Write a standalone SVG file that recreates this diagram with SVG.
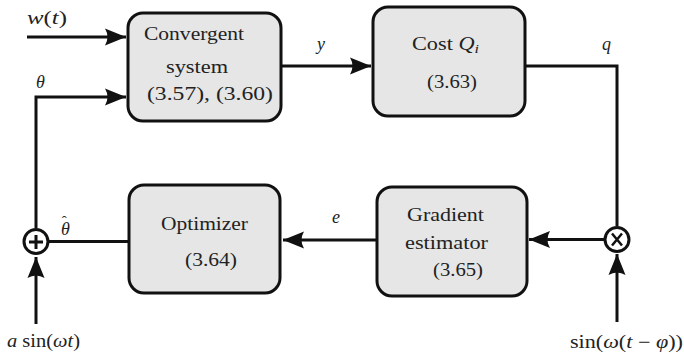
<svg xmlns="http://www.w3.org/2000/svg" width="684" height="358" viewBox="0 0 684 358">
<defs>
<marker id="ah" markerUnits="userSpaceOnUse" markerWidth="24" markerHeight="20" viewBox="-22 -10 24 20" refX="0" refY="0" orient="auto">
<path d="M0,0 L-21,-8.5 Q-16,0 -21,8.5 Z" fill="#111"/>
</marker>
</defs>
<rect x="0" y="0" width="684" height="358" fill="#fff"/>
<g id="connectors" fill="none" stroke="#111" stroke-width="3">
<path d="M27,37 H126" marker-end="url(#ah)"/>
<path d="M36,228 V97 H126" marker-end="url(#ah)"/>
<path d="M281,66 H371" marker-end="url(#ah)"/>
<path d="M525,66 H617 V226"/>
<path d="M604,239.5 H529" marker-end="url(#ah)"/>
<path d="M376,240 H283" marker-end="url(#ah)"/>
<path d="M129,241.5 H49"/>
<path d="M36,324 V257" marker-end="url(#ah)"/>
<path d="M617,322 V254" marker-end="url(#ah)"/>
</g>
<g id="convergent">
<rect fill="#e6e6e6" stroke="#111" stroke-width="3" x="128" y="13" width="153" height="108" rx="15"/>
<text font-family="Liberation Serif" font-size="18" fill="#222" x="144" y="40" textLength="100" lengthAdjust="spacingAndGlyphs">Convergent</text>
<text font-family="Liberation Serif" font-size="18" fill="#222" x="166" y="73" textLength="62" lengthAdjust="spacingAndGlyphs">system</text>
<text font-family="Liberation Serif" font-size="18" fill="#222" x="147" y="100" textLength="126" lengthAdjust="spacingAndGlyphs">(3.57), (3.60)</text>
</g>
<g id="cost">
<rect fill="#e6e6e6" stroke="#111" stroke-width="3" x="373" y="7" width="152" height="109" rx="15"/>
<text font-family="Liberation Serif" font-size="18" fill="#222" x="412" y="50" textLength="67" lengthAdjust="spacingAndGlyphs">Cost <tspan font-style="italic">Q</tspan><tspan font-style="italic" font-size="13" dy="3">i</tspan></text>
<text font-family="Liberation Serif" font-size="18" fill="#222" x="427" y="88" textLength="50" lengthAdjust="spacingAndGlyphs">(3.63)</text>
</g>
<g id="optimizer">
<rect fill="#e6e6e6" stroke="#111" stroke-width="3" x="129" y="185" width="151" height="108" rx="15"/>
<text font-family="Liberation Serif" font-size="18" fill="#222" x="161" y="230" textLength="87" lengthAdjust="spacingAndGlyphs">Optimizer</text>
<text font-family="Liberation Serif" font-size="18" fill="#222" x="185" y="266" textLength="52" lengthAdjust="spacingAndGlyphs">(3.64)</text>
</g>
<g id="gradient">
<rect fill="#e6e6e6" stroke="#111" stroke-width="3" x="377" y="187" width="150" height="109" rx="15"/>
<text font-family="Liberation Serif" font-size="18" fill="#222" x="407" y="221" textLength="77" lengthAdjust="spacingAndGlyphs">Gradient</text>
<text font-family="Liberation Serif" font-size="18" fill="#222" x="405" y="249" textLength="83" lengthAdjust="spacingAndGlyphs">estimator</text>
<text font-family="Liberation Serif" font-size="18" fill="#222" x="433" y="276" textLength="50" lengthAdjust="spacingAndGlyphs">(3.65)</text>
</g>
<g id="sum">
<circle fill="#fff" stroke="#111" stroke-width="3" cx="36" cy="241.5" r="12"/>
<path stroke="#111" stroke-width="3" d="M29,242 H43 M36,235 V249"/>
</g>
<g id="mult">
<circle fill="#fff" stroke="#111" stroke-width="3" cx="617" cy="239.5" r="12"/>
<path stroke="#111" stroke-width="2.5" d="M612,233.5 L622,245.5 M622,233.5 L612,245.5"/>
</g>
<g id="labels">
<text font-family="Liberation Serif" font-size="18" fill="#222" x="27" y="24" textLength="40" lengthAdjust="spacingAndGlyphs"><tspan font-style="italic">w</tspan>(<tspan font-style="italic">t</tspan>)</text>
<text font-family="Liberation Serif" font-size="18" fill="#222" x="36" y="88" font-style="italic">θ</text>
<text font-family="Liberation Serif" font-size="18" fill="#222" x="317" y="50" font-style="italic">y</text>
<text font-family="Liberation Serif" font-size="18" fill="#222" x="602" y="50" font-style="italic">q</text>
<text font-family="Liberation Serif" font-size="18" fill="#222" x="61" y="235" font-style="italic">θ<tspan dx="-8" dy="-9" font-style="normal" font-size="15">ˆ</tspan></text>
<text font-family="Liberation Serif" font-size="18" fill="#222" x="332" y="223" font-style="italic">e</text>
<text font-family="Liberation Serif" font-size="18" fill="#222" x="7" y="347" textLength="73" lengthAdjust="spacingAndGlyphs"><tspan font-style="italic">a</tspan> sin(<tspan font-style="italic">ωt</tspan>)</text>
<text font-family="Liberation Serif" font-size="18" fill="#222" x="570" y="348" textLength="113" lengthAdjust="spacingAndGlyphs">sin(<tspan font-style="italic">ω</tspan>(<tspan font-style="italic">t</tspan> − <tspan font-style="italic">φ</tspan>))</text>
</g>
</svg>
